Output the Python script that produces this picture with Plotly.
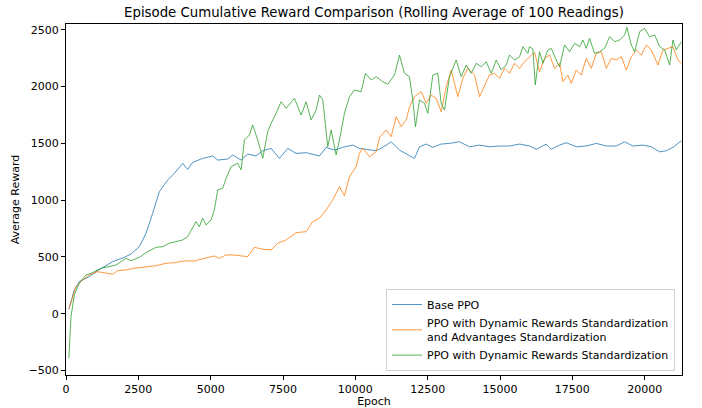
import plotly.graph_objects as go

# ---- data ----
base_x = [100, 287, 460, 806, 1037, 1266, 1612, 2016, 2247, 2535, 2766, 2995, 3226, 3513, 3745, 4032, 4205, 4378, 4724, 5070, 5243, 5589, 5762, 6051, 6280, 6570, 6800, 7089, 7376, 7663, 7954, 8299, 8759, 8991, 9278, 9565, 9911, 10143, 10430, 10720, 10948, 11238, 11525, 11812, 12044, 12217, 12449, 12677, 12967, 13254, 13600, 13946, 14292, 14638, 14984, 15330, 15675, 16021, 16253, 16599, 16772, 17059, 17290, 17636, 17982, 18328, 18674, 19020, 19306, 19594, 19940, 20230, 20517, 20748, 20977, 21268]
base_y = [40, 208, 282, 326, 370, 408, 458, 496, 525, 590, 707, 883, 1074, 1177, 1235, 1323, 1270, 1332, 1367, 1388, 1352, 1361, 1397, 1352, 1405, 1388, 1434, 1455, 1367, 1455, 1411, 1417, 1388, 1464, 1440, 1464, 1484, 1455, 1447, 1434, 1464, 1513, 1440, 1396, 1367, 1469, 1493, 1464, 1493, 1499, 1513, 1469, 1484, 1469, 1476, 1476, 1493, 1476, 1447, 1493, 1447, 1484, 1505, 1469, 1476, 1499, 1476, 1476, 1513, 1476, 1484, 1469, 1425, 1434, 1464, 1522]

dyn_adv_x = [100, 228, 346, 574, 806, 1093, 1324, 1612, 1784, 2075, 2362, 2766, 3112, 3458, 3745, 4091, 4437, 4782, 5128, 5300, 5533, 5762, 6280, 6512, 6800, 7089, 7317, 7608, 7954, 8299, 8527, 8759, 8991, 9219, 9451, 9624, 9797, 10028, 10143, 10256, 10488, 10720, 10834, 11066, 11238, 11411, 11584, 11757, 11872, 12044, 12276, 12449, 12622, 12795, 12967, 13140, 13313, 13541, 13714, 13887, 14119, 14292, 14465, 14638, 14811, 14984, 15157, 15330, 15503, 15676, 15848, 16021, 16194, 16367, 16540, 16713, 16886, 17059, 17173, 17346, 17464, 17636, 17809, 17982, 18155, 18328, 18501, 18674, 18847, 19020, 19193, 19365, 19538, 19711, 19884, 20057, 20230, 20458, 20631, 20804, 20977, 21150, 21268]
dyn_adv_y = [40, 135, 238, 297, 341, 370, 361, 347, 378, 385, 400, 414, 422, 443, 449, 464, 464, 487, 508, 487, 517, 517, 502, 584, 567, 561, 620, 649, 713, 722, 810, 840, 913, 1001, 1118, 1036, 1206, 1294, 1412, 1456, 1382, 1426, 1550, 1617, 1558, 1734, 1646, 1705, 1822, 1910, 1954, 1852, 1925, 1895, 1778, 1998, 2145, 1910, 2072, 2160, 2101, 1910, 2013, 2101, 2116, 2072, 2160, 2116, 2204, 2160, 2218, 2262, 2300, 2130, 2248, 2277, 2160, 2204, 2042, 2101, 2028, 2145, 2101, 2248, 2160, 2291, 2306, 2160, 2248, 2233, 2262, 2145, 2262, 2321, 2277, 2365, 2321, 2189, 2321, 2336, 2350, 2233, 2204]

dyn_x = [100, 173, 287, 460, 692, 920, 1210, 1497, 1727, 2075, 2248, 2535, 2766, 3112, 3340, 3572, 3859, 4032, 4205, 4378, 4495, 4610, 4724, 4841, 5014, 5128, 5243, 5416, 5533, 5706, 5934, 6051, 6166, 6339, 6453, 6626, 6800, 6972, 7089, 7262, 7435, 7608, 7895, 8126, 8299, 8472, 8645, 8759, 8874, 9047, 9164, 9337, 9451, 9624, 9797, 9970, 10201, 10350, 10547, 10720, 10948, 11121, 11353, 11525, 11698, 11870, 11986, 12078, 12217, 12390, 12505, 12677, 12850, 12967, 13082, 13254, 13486, 13659, 13832, 14005, 14178, 14351, 14524, 14697, 14869, 15042, 15215, 15330, 15503, 15676, 15790, 15963, 16021, 16136, 16218, 16367, 16482, 16655, 16770, 16945, 17059, 17232, 17405, 17578, 17751, 17865, 17982, 18096, 18269, 18442, 18615, 18788, 18961, 19134, 19306, 19386, 19538, 19652, 19825, 19998, 20171, 20344, 20517, 20690, 20863, 20977, 21092, 21268]
dyn_y = [-390, -26, 165, 268, 341, 361, 400, 414, 428, 487, 466, 496, 537, 584, 590, 620, 634, 649, 678, 752, 810, 766, 840, 781, 825, 913, 1089, 1104, 1190, 1294, 1324, 1265, 1529, 1573, 1661, 1529, 1368, 1602, 1675, 1764, 1866, 1808, 1896, 1749, 1866, 1705, 1793, 1925, 1881, 1470, 1617, 1397, 1529, 1764, 1910, 1969, 1954, 2116, 2057, 2086, 2042, 2020, 2101, 2277, 2116, 2086, 1881, 1646, 1881, 1852, 1764, 2101, 2116, 1852, 1793, 2086, 2233, 2086, 2189, 2116, 2204, 2174, 2218, 2116, 2233, 2145, 2189, 2277, 2233, 2262, 2350, 2291, 2350, 2330, 2013, 2306, 2204, 2321, 2336, 2233, 2174, 2365, 2306, 2380, 2350, 2409, 2336, 2423, 2291, 2306, 2336, 2438, 2394, 2409, 2453, 2520, 2365, 2306, 2482, 2511, 2438, 2453, 2350, 2321, 2189, 2409, 2321, 2394]

x_ticks = [0, 2500, 5000, 7500, 10000, 12500, 15000, 17500, 20000]
y_ticks = [-500, 0, 500, 1000, 1500, 2000, 2500]

series_names = [
    "Base PPO",
    "PPO with Dynamic Rewards Standardization<br>and Advantages Standardization",
    "PPO with Dynamic Rewards Standardization",
]
colors = ["#1f77b4", "#ff7f0e", "#2ca02c"]

fig = go.Figure()
for xs, ys, name, c in zip([base_x, dyn_adv_x, dyn_x], [base_y, dyn_adv_y, dyn_y], series_names, colors):
    fig.add_trace(go.Scatter(x=xs, y=ys, mode="lines", name=name,
                             line=dict(color=c, width=0.8)))

font = "DejaVu Sans, sans-serif"
L, R, T, B = 66, 682, 24, 375
W, H = 702, 408
fig.update_layout(
    width=W, height=H,
    margin=dict(l=L, r=W - R, t=T, b=H - B),
    paper_bgcolor="white", plot_bgcolor="white",
    font=dict(family=font, size=11, color="black"),
    title=dict(text="Episode Cumulative Reward Comparison (Rolling Average of 100 Readings)",
               x=(L + R) / 2 / W, xanchor="center",
               y=1 - 12 / H, yanchor="middle", yref="container",
               font=dict(size=13.3, family=font, color="black")),
    showlegend=True,
    legend=dict(x=(675 - L) / (R - L), xanchor="right", y=(B - 371) / (B - T), yanchor="bottom",
                bgcolor="rgba(255,255,255,0.8)", bordercolor="#d0d0d0", borderwidth=1,
                font=dict(size=11, family=font), itemwidth=30, tracegroupgap=0),
)
fig.update_xaxes(range=[0, 21290], tickvals=x_ticks, ticktext=[str(v) for v in x_ticks],
                 showgrid=False, zeroline=False, showline=True, mirror=True,
                 linecolor="black", linewidth=1, ticks="outside", ticklen=4,
                 tickcolor="black", automargin=False,
                 title=dict(text="Epoch", standoff=2, font=dict(size=11)))
fig.update_yaxes(range=[-540, 2550], tickvals=y_ticks,
                 ticktext=[("\u2212" + str(-v)) if v < 0 else str(v) for v in y_ticks],
                 showgrid=False, zeroline=False, showline=True, mirror=True,
                 linecolor="black", linewidth=1, ticks="outside", ticklen=4,
                 tickcolor="black", automargin=False,
                 title=dict(text="Average Reward", standoff=6, font=dict(size=11)))

fig.write_html("out.html", config={"displayModeBar": False},
               post_script="document.body.style.margin='0';")
